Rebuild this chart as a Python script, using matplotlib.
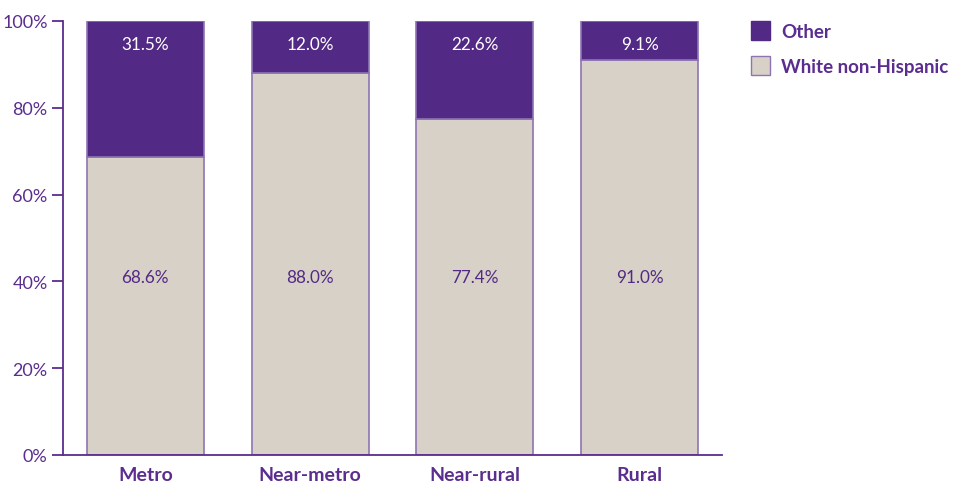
import matplotlib
matplotlib.use("Agg")
import matplotlib.pyplot as plt
from matplotlib.patches import Patch

categories = ["Metro", "Near-metro", "Near-rural", "Rural"]
white = [68.6, 88.0, 77.4, 91.0]
other = [31.5, 12.0, 22.6, 9.1]
yticks = [0, 20, 40, 60, 80, 100]

PURPLE = "#532986"
BEIGE = "#D8D1C7"
EDGE = "#8E74B2"
AXC = "#5A2D8E"

plt.rcParams['font.family'] = ['Lato', 'DejaVu Sans']

fig = plt.figure(figsize=(9.7, 4.85), dpi=100)
ax = fig.add_axes([63/970, 29/485, (722-63)/970, 434/485])

x = range(len(categories))
w = 0.71
ax.bar(x, white, width=w, color=BEIGE, edgecolor=EDGE, linewidth=1.2, label="White non-Hispanic")
ax.bar(x, [100 - v for v in white], bottom=white, width=w, color=PURPLE, edgecolor=EDGE, linewidth=1.2, label="Other")

for i in x:
    ax.text(i, 41, f"{white[i]:.1f}%", ha="center", va="center", color=PURPLE, fontsize=12.3)
    ax.text(i, 94.7, f"{other[i]:.1f}%", ha="center", va="center", color="white", fontsize=12.3)

ax.set_xlim(-0.5, 3.5)
ax.set_ylim(0, 100)
ax.set_yticks(yticks)
ax.set_yticklabels([f"{t}%" for t in yticks], color=AXC, fontsize=13)
ax.set_xticks(list(x))
ax.set_xticklabels(categories, color=AXC, fontsize=14, fontweight="bold")
ax.tick_params(axis="x", length=0, pad=8)
ax.tick_params(axis="y", length=8, width=1.3, color=AXC, pad=3, direction="out")
for s in ["top", "right"]:
    ax.spines[s].set_visible(False)
for s in ["left", "bottom"]:
    ax.spines[s].set_color(AXC)
    ax.spines[s].set_linewidth(1.3)

handles = [Patch(facecolor=PURPLE, edgecolor=PURPLE, label="Other"),
           Patch(facecolor=BEIGE, edgecolor=EDGE, label="White non-Hispanic")]
leg = fig.legend(handles=handles, loc="upper left", bbox_to_anchor=(751/970, 1 - 22/485),
                 frameon=False, fontsize=13.5, handlelength=1.0, handleheight=1.2,
                 handletextpad=0.6, labelspacing=0.85, borderaxespad=0, borderpad=0)
for t in leg.get_texts():
    t.set_color(AXC)
    t.set_fontweight("bold")

fig.savefig("out.png", dpi=100)
